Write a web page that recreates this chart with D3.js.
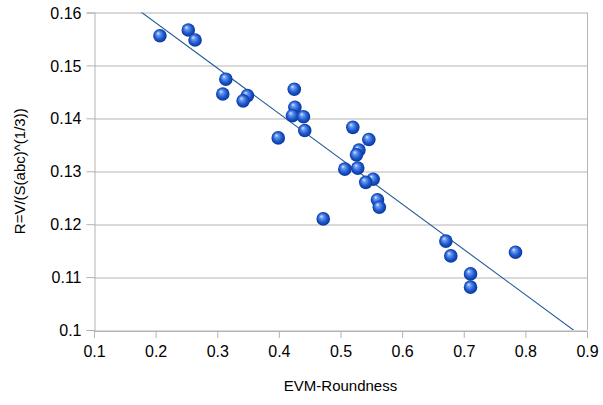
<!DOCTYPE html>
<html>
<head>
<meta charset="utf-8">
<script src="https://cdn.jsdelivr.net/npm/d3@7"></script>
<style>
    body { margin: 0; background: #fff; }
    text { font-family: "Liberation Sans", Arial, sans-serif; fill: #000; }
</style>
</head>
<body>
<div id="chart"></div>
<script>
// roundness vs R values
const evm_roundness = [0.207, 0.253, 0.264, 0.314, 0.309, 0.349, 0.342, 0.425, 0.426, 0.422,
    0.440, 0.442, 0.399, 0.520, 0.546, 0.530, 0.526, 0.507, 0.528, 0.553,
    0.541, 0.560, 0.563, 0.472, 0.671, 0.679, 0.711, 0.711, 0.784];
const r_values = [0.1556, 0.1567, 0.1548, 0.1474, 0.1446, 0.1443, 0.1433, 0.1455, 0.1421, 0.1405,
    0.1403, 0.1377, 0.1363, 0.1383, 0.1360, 0.1340, 0.1331, 0.1304, 0.1306, 0.1285,
    0.1279, 0.1246, 0.1232, 0.1210, 0.1168, 0.1140, 0.1106, 0.1081, 0.1147];

// linear trend line
const trend_slope = -0.08566;
const trend_intercept = 0.17520;

const x_ticks = [0.1, 0.2, 0.3, 0.4, 0.5, 0.6, 0.7, 0.8, 0.9];
const y_ticks = [0.1, 0.11, 0.12, 0.13, 0.14, 0.15, 0.16];

const x_title = "EVM-Roundness";
const y_title = "R=V/(S(abc)^(1/3))";

const margin = {top: 12.5, right: 16, bottom: 75, left: 94};
const full_width = 603, full_height = 405;
const width = full_width - margin.left - margin.right;
const height = full_height - margin.top - margin.bottom;

const svg = d3.select("#chart")
    .append("svg")
    .attr("width", full_width)
    .attr("height", full_height);

const defs = svg.append("defs");
const grad = defs.append("radialGradient")
    .attr("id", "ball")
    .attr("cx", "50%").attr("cy", "50%").attr("r", "55%")
    .attr("fx", "35%").attr("fy", "30%");
grad.append("stop").attr("offset", "0%").attr("stop-color", "#e4eeff");
grad.append("stop").attr("offset", "22%").attr("stop-color", "#6f9ef2");
grad.append("stop").attr("offset", "60%").attr("stop-color", "#1f5ad0");
grad.append("stop").attr("offset", "88%").attr("stop-color", "#0c3a9e");
grad.append("stop").attr("offset", "100%").attr("stop-color", "#2f66c8");

defs.append("clipPath").attr("id", "clip")
    .append("rect")
    .attr("width", width)
    .attr("height", height);

const g = svg.append("g")
    .attr("transform", "translate(" + margin.left + "," + margin.top + ")");

const x_scale = d3.scaleLinear().domain([0.1, 0.9]).range([0, width]);
const y_scale = d3.scaleLinear().domain([0.1, 0.16]).range([height, 0]);

// horizontal grid lines
g.append("g")
    .selectAll("line")
    .data(y_ticks)
    .enter()
    .append("line")
    .attr("x1", 0)
    .attr("x2", width)
    .attr("y1", d => Math.round(y_scale(d)) + 0.5)
    .attr("y2", d => Math.round(y_scale(d)) + 0.5)
    .attr("stroke", "#b3b3b3");

// right border
g.append("line")
    .attr("x1", width + 0.5).attr("x2", width + 0.5)
    .attr("y1", 0).attr("y2", height)
    .attr("stroke", "#b3b3b3");

const x_axis = g.append("g")
    .attr("transform", "translate(0," + (Math.round(height) + 0.5) + ")")
    .call(d3.axisBottom(x_scale)
        .tickValues(x_ticks)
        .tickSize(7)
        .tickPadding(8)
        .tickFormat(d3.format(".1f")));

const y_axis = g.append("g")
    .attr("transform", "translate(0.5,0)")
    .call(d3.axisLeft(y_scale)
        .tickValues(y_ticks)
        .tickSize(8)
        .tickPadding(5)
        .tickFormat(d => d3.format(".2f")(d).replace(/0$/, "")));

[x_axis, y_axis].forEach(function (axis) {
    axis.select(".domain").attr("stroke", "#b3b3b3");
    axis.selectAll(".tick line").attr("stroke", "#b3b3b3");
    axis.selectAll(".tick text")
        .attr("font-size", 16)
        .attr("fill", "#000")
        .style("font-family", "'Liberation Sans', Arial, sans-serif");
});
y_axis.selectAll(".tick text").attr("dy", "0.35em");

// trend line, clipped to the plot
const line_x = [0.1, 0.9];
g.append("g")
    .attr("clip-path", "url(#clip)")
    .append("line")
    .attr("x1", x_scale(line_x[0]))
    .attr("y1", y_scale(trend_intercept + trend_slope * line_x[0]))
    .attr("x2", x_scale(line_x[1]))
    .attr("y2", y_scale(trend_intercept + trend_slope * line_x[1]))
    .attr("stroke", "#1f5a96")
    .attr("stroke-width", 1.1);

// data points as shaded balls
g.append("g")
    .selectAll("circle")
    .data(evm_roundness.map((v, i) => [v, r_values[i]]))
    .enter()
    .append("circle")
    .attr("cx", d => x_scale(d[0]))
    .attr("cy", d => y_scale(d[1]))
    .attr("r", 6.8)
    .attr("fill", "url(#ball)");

// axis titles
svg.append("text")
    .attr("x", margin.left + width / 2)
    .attr("y", 391)
    .attr("text-anchor", "middle")
    .attr("font-size", 15)
    .text(x_title);

svg.append("text")
    .attr("transform", "translate(25," + (margin.top + height / 2) + ") rotate(-90)")
    .attr("text-anchor", "middle")
    .attr("font-size", 15)
    .text(y_title);
</script>
</body>
</html>
